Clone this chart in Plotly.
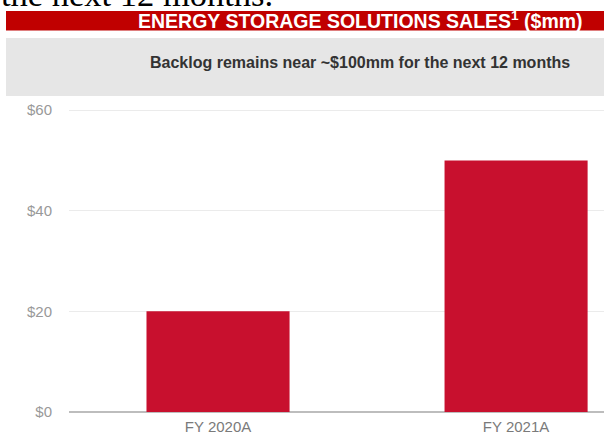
import plotly.graph_objects as go

categories = ["FY 2020A", "FY 2021A"]
sales = [20, 50]
tick_vals = [0, 20, 40, 60]
tick_text = ["$0", "$20", "$40", "$60"]

title_text = "ENERGY STORAGE SOLUTIONS SALES<sup>1</sup> ($mm)"
subtitle_text = "Backlog remains near ~$100mm for the next 12 months"
cut_text = "the next 12 months."

W, H = 604, 437
L, R, T, B = 69, 0, 100, 25
pw, ph = W - L - R, H - T - B

def px(x):
    return (x - L) / pw

def py(y):
    return (H - B - y) / ph

fig = go.Figure()
fig.add_trace(go.Bar(
    x=categories, y=sales, width=0.48,
    marker=dict(color="#c8102e", line=dict(width=0)),
    hoverinfo="skip",
))

shapes = [
    dict(type="rect", xref="paper", yref="paper", x0=px(6), x1=px(604), y0=py(30.5), y1=py(11),
         fillcolor="#c00000", line=dict(width=0), layer="below"),
    dict(type="rect", xref="paper", yref="paper", x0=px(6), x1=px(604), y0=py(96), y1=py(38),
         fillcolor="#e6e6e6", line=dict(width=0), layer="below"),
]

annotations = [
    dict(text=title_text, xref="paper", yref="paper", x=px(360), y=py(19.5), xanchor="center",
         yanchor="middle", showarrow=False,
         font=dict(family="Liberation Sans, Arial", size=19.5, color="white", weight="bold")),
    dict(text=subtitle_text, xref="paper", yref="paper", x=px(360), y=py(62), xanchor="center",
         yanchor="middle", showarrow=False,
         font=dict(family="Liberation Sans, Arial", size=16, color="#333333", weight="bold")),
    dict(text=cut_text, xref="paper", yref="paper", x=px(-1), y=py(-6), xanchor="left",
         yanchor="middle", showarrow=False,
         font=dict(family="Liberation Serif, Times New Roman", size=34.5, color="black")),
]

fig.update_layout(
    width=W, height=H,
    margin=dict(l=L, r=R, t=T, b=B, pad=0),
    paper_bgcolor="white", plot_bgcolor="white",
    showlegend=False,
    shapes=shapes, annotations=annotations,
)
fig.update_xaxes(
    range=[-0.5, 1.295], showgrid=False, showline=False, ticks="",
    ticklabelstandoff=4,
    tickfont=dict(family="Liberation Sans, Arial", size=15, color="#7a7a7a"),
    fixedrange=True,
)
fig.update_yaxes(
    range=[0, 62], tickvals=tick_vals, ticktext=tick_text,
    showgrid=True, gridcolor="#ebebeb", gridwidth=1,
    zeroline=True, zerolinecolor="#bdbdbd", zerolinewidth=2,
    showline=False, ticks="", ticklabelstandoff=16,
    tickfont=dict(family="Liberation Sans, Arial", size=15, color="#999999"),
    fixedrange=True,
)

fig.write_html("out.html", config={"displayModeBar": False})
